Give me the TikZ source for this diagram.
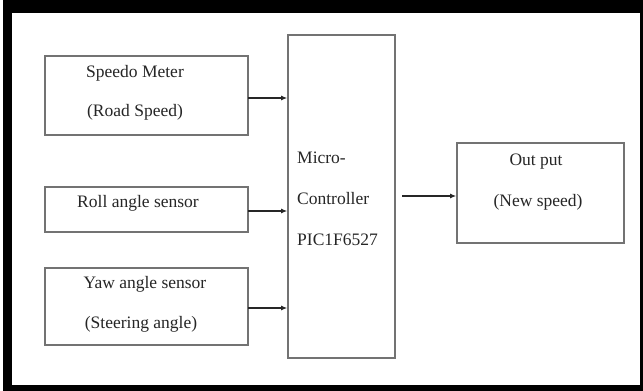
\documentclass[tikz,border=0pt]{standalone}
\usepackage{fontspec}
\setmainfont{Liberation Serif}
\usetikzlibrary{arrows.meta}
\begin{document}
\begin{tikzpicture}[x=1pt,y=-1pt,
  blk/.style={draw=black!55,line width=1.6pt,fill=white,inner sep=0pt},
  lbl/.style={inner sep=0pt,font=\fontsize{17.5}{21}\selectfont,text=black!85},
  conn/.style={draw=black!85,line width=1.2pt,-{Latex[length=6pt,width=5pt]}}]
\useasboundingbox (0,0) rectangle (643,391);
\fill[black] (3,0) rectangle (643,391);
\fill[white] (12,13) rectangle (640,385);
% boxes
\node[blk,minimum width=203pt,minimum height=79pt] (speedo) at (146.5,95.5) {};
\node[blk,minimum width=203pt,minimum height=45pt] (roll) at (146.5,209.5) {};
\node[blk,minimum width=203pt,minimum height=77pt] (yaw) at (146.5,306.5) {};
\node[blk,minimum width=107pt,minimum height=323pt] (mcu) at (341.5,196.5) {};
\node[blk,minimum width=167pt,minimum height=100pt] (out) at (540.5,193) {};
% labels
\node[lbl] (t1) at (135,73) {Speedo Meter};
\node[lbl] (t2) at (135,112) {(Road Speed)};
\node[lbl] (t3) at (138,203) {Roll angle sensor};
\node[lbl] (t4) at (145,284) {Yaw angle sensor};
\node[lbl] (t5) at (141,324) {(Steering angle)};
\node[lbl,anchor=west] (t6) at (297,158) {Micro-};
\node[lbl,anchor=west] (t7) at (297,199) {Controller};
\node[lbl,anchor=west] (t8) at (297,240) {PIC1F6527};
\node[lbl] (t9) at (536,162) {Out put};
\node[lbl] (t10) at (538,202) {(New speed)};
% connectors
\coordinate (a1) at (248,98);
\coordinate (a2) at (248,211);
\coordinate (a3) at (248,308);
\coordinate (a4) at (402,196);
\draw[conn] (a1) -- (a1 -| mcu.west);
\draw[conn] (a2) -- (a2 -| mcu.west);
\draw[conn] (a3) -- (a3 -| mcu.west);
\draw[conn] (a4) -- (a4 -| out.west);
\end{tikzpicture}
\end{document}
